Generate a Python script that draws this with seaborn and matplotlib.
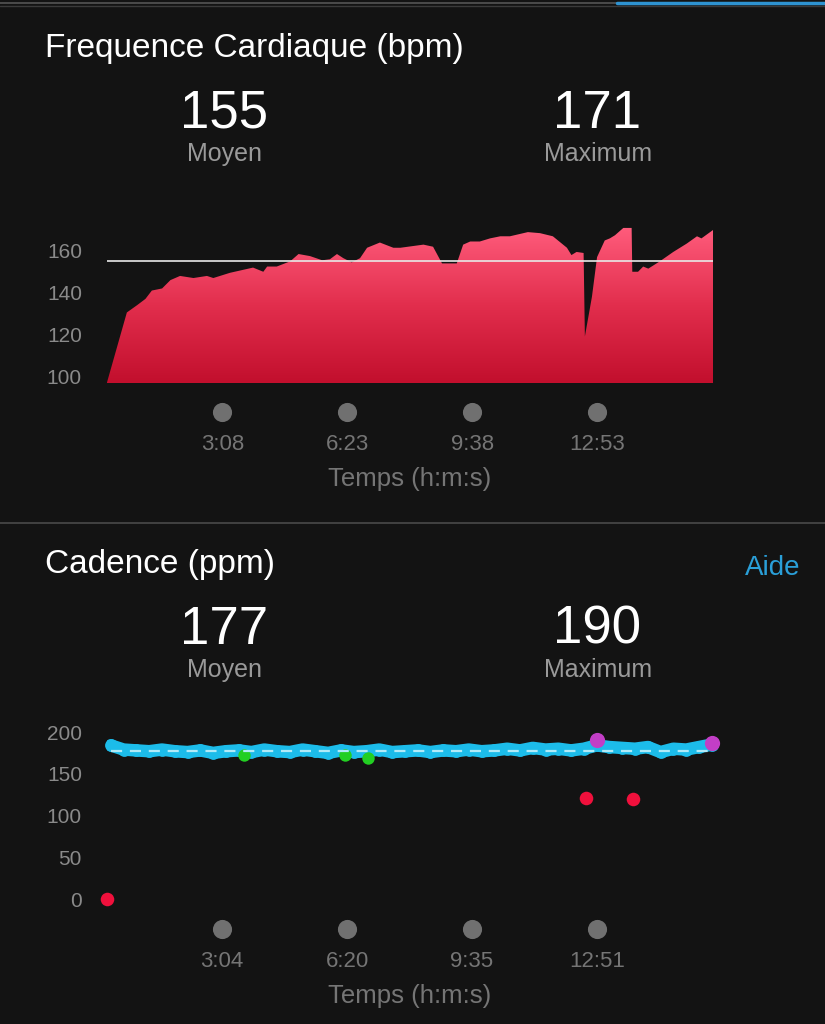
import numpy as np
import matplotlib
matplotlib.use("Agg")
import matplotlib.pyplot as plt
import matplotlib.transforms as mtransforms
from matplotlib.colors import LinearSegmentedColormap
import seaborn as sns

# heart rate (seconds, bpm)
hr_time = [8, 39, 55, 68, 78, 94, 107, 122, 143, 164, 174, 200, 236, 252, 258, 273, 294, 307, 325, 344,
           356, 367, 377, 390, 403, 414, 434, 455, 466, 502, 517, 531, 554, 564, 575, 590, 606, 622, 637, 665,
           684, 704, 726, 733, 741, 752, 754, 765, 773, 785, 793, 801, 814, 827, 828, 837, 845, 853, 871, 892,
           913, 929, 936, 954]
hr_bpm = [97, 130.5, 134, 137, 141, 142, 146, 148, 147, 148, 147, 149.5, 152, 150, 152.5, 152.5, 155, 158.5, 157.5, 155.5,
          156, 158.5, 156.5, 154.5, 156.5, 161.5, 164, 161.5, 161.5, 163, 162, 154, 154, 163, 164.5, 164.5, 166, 167, 167, 169,
          168.5, 167, 161.5, 158, 159.5, 159, 119, 138, 157, 165, 166, 167.5, 171, 171, 150, 150, 152.5, 151.5, 155, 159.5,
          163.5, 167, 166, 170]
hr_avg, hr_max = 155, 171
hr_ticks = [188, 383, 578, 773]
hr_tick_labels = ["3:08", "6:23", "9:38", "12:53"]
hr_yticks = [100, 120, 140, 160]

# cadence (seconds, ppm)
cad_time = [10, 30, 50, 70, 90, 110, 130, 150, 170, 190, 210, 230, 250, 270, 290, 310, 330, 350, 370, 390,
            410, 430, 450, 470, 490, 510, 530, 550, 570, 590, 610, 630, 650, 670, 690, 710, 730, 750, 770, 790,
            810, 830, 850, 870, 890, 910, 930, 950]
cad_ppm = [184, 179, 178, 177, 179, 177, 176, 178, 175, 177, 178, 176, 179, 177, 176, 179, 177, 175, 178, 176,
           177, 179, 176, 177, 178, 176, 178, 177, 179, 177, 178, 180, 178, 181, 179, 180, 178, 180, 184, 182,
           181, 180, 182, 176, 180, 179, 182, 185]
green_time = [218, 376, 412]
green_ppm = [172.5, 172, 169]
pink_time = [770, 950]
pink_ppm = [190, 187]
red_time = [4, 754, 827]
red_ppm = [0, 121, 120]
cad_avg, cad_max = 177, 190
cad_ticks = [184, 380, 575, 771]
cad_tick_labels = ["3:04", "6:20", "9:35", "12:51"]
cad_yticks = [0, 50, 100, 150, 200]

BG = "#131313"
GREY = "#8a8a8a"
W, H = 825, 1024

sns.set_theme(style="dark")
plt.rcParams["font.family"] = ["Liberation Sans", "DejaVu Sans"]
plt.rcParams["figure.facecolor"] = BG
plt.rcParams["axes.facecolor"] = BG

fig = plt.figure(figsize=(W / 100, H / 100), dpi=100)


def px(x, y):
    return x / W, 1 - y / H


def add_ax(top, bottom):
    ax = fig.add_axes([107 / W, 1 - bottom / H, (713 - 107) / W, (bottom - top) / H])
    ax.set_facecolor(BG)
    for s in ax.spines.values():
        s.set_visible(False)
    ax.grid(False)
    ax.tick_params(axis="y", length=0, pad=18, labelsize=15, labelcolor=GREY)
    ax.set_xticks([])
    return ax


def header(dy, title, avg, mx):
    fig.text(*px(45, 57 + dy), title, color="white", fontsize=24, va="baseline")
    fig.text(*px(224, 128 + dy), str(avg), color="white", fontsize=38, ha="center", va="baseline")
    fig.text(*px(597, 128 + dy), str(mx), color="white", fontsize=38, ha="center", va="baseline")
    fig.text(*px(224, 161 + dy), "Moyen", color="#9a9a9a", fontsize=18, ha="center", va="baseline")
    fig.text(*px(598, 161 + dy), "Maximum", color="#9a9a9a", fontsize=18, ha="center", va="baseline")


def time_axis(ax, ticks, labels, top, bottom, dy):
    h = bottom - top
    trans = mtransforms.blended_transform_factory(ax.transData, ax.transAxes)
    ax.scatter(ticks, [(bottom - (412 + dy)) / h] * len(ticks), transform=trans, s=190,
               color="#707070", clip_on=False, linewidths=0)
    for t, lab in zip(ticks, labels):
        ax.text(t, (bottom - (450 + dy)) / h, lab, transform=trans, ha="center", va="baseline",
                color="#757575", fontsize=16)
    fig.text(*px(410, 486 + dy), "Temps (h:m:s)", color="#757575", fontsize=18.5, ha="center", va="baseline")


# top decoration
fig.add_artist(plt.Line2D([0, 617 / W], [1 - 3 / H] * 2, color="#555555", lw=1.2))
fig.add_artist(plt.Line2D([0, 1], [1 - 5.5 / H] * 2, color="#3a3a3a", lw=1.0))
fig.add_artist(plt.Line2D([617 / W, 1], [1 - 2.5 / H] * 2, color="#2e93d1", lw=2.5))
fig.add_artist(plt.Line2D([0, 1], [1 - 523 / H] * 2, color="#4a4a4a", lw=1.2))

# ---------------- heart rate ----------------
header(0, "Frequence Cardiaque (bpm)", hr_avg, hr_max)
ax1 = add_ax(220, 383)
ax1.set_xlim(8, 954)
ax1.set_ylim(96.7, 174.8)
poly = ax1.fill_between(hr_time, 96.7, hr_bpm, color="none", lw=0)
cmap = LinearSegmentedColormap.from_list("hr", ["#c20f2d", "#e22e4d", "#ff5c7c"])
grad = np.linspace(0, 1, 256).reshape(-1, 1)
img = ax1.imshow(grad, cmap=cmap, origin="lower", aspect="auto",
                 extent=[8, 954, 96.7, 171], zorder=1)
img.set_clip_path(poly.get_paths()[0], transform=ax1.transData)
ax1.axhline(hr_avg, color="#e8e8e8", lw=1.2, zorder=3)
ax1.set_yticks(hr_yticks)
ax1.set_xlim(8, 954)
ax1.set_ylim(96.7, 174.8)
time_axis(ax1, hr_ticks, hr_tick_labels, 220, 383, 0)

# ---------------- cadence ----------------
header(516, "Cadence (ppm)", cad_avg, cad_max)
fig.text(*px(800, 575), "Aide", color="#2a9fd8", fontsize=20, ha="right", va="baseline")
ax2 = add_ax(719.5, 907.4)
ax2.set_xlim(4, 952)
ax2.set_ylim(-10, 215)
sns.lineplot(x=cad_time, y=cad_ppm, ax=ax2, color="#1cbcea", lw=9, zorder=3,
             solid_capstyle="round", solid_joinstyle="round")
sns.scatterplot(x=cad_time, y=cad_ppm, ax=ax2, color="#1cbcea", s=85, linewidth=0, zorder=3, clip_on=False)
sns.scatterplot(x=green_time, y=green_ppm, ax=ax2, color="#22cf22", s=80, linewidth=0, zorder=4)
sns.scatterplot(x=pink_time, y=pink_ppm, ax=ax2, color="#c23ec6", s=120, linewidth=0, zorder=4, clip_on=False)
sns.scatterplot(x=red_time, y=red_ppm, ax=ax2, color="#f0103c", s=95, linewidth=0, zorder=4, clip_on=False)
ax2.plot([cad_time[0], cad_time[-1]], [cad_avg, cad_avg], color="#b0eaf8", lw=1.6,
         dashes=(5, 3.5), zorder=5)
ax2.set_yticks(cad_yticks)
ax2.set_xlim(4, 952)
ax2.set_ylim(-10, 215)
time_axis(ax2, cad_ticks, cad_tick_labels, 719.5, 907.4, 517)

fig.savefig("out.png", dpi=100, facecolor=BG)
